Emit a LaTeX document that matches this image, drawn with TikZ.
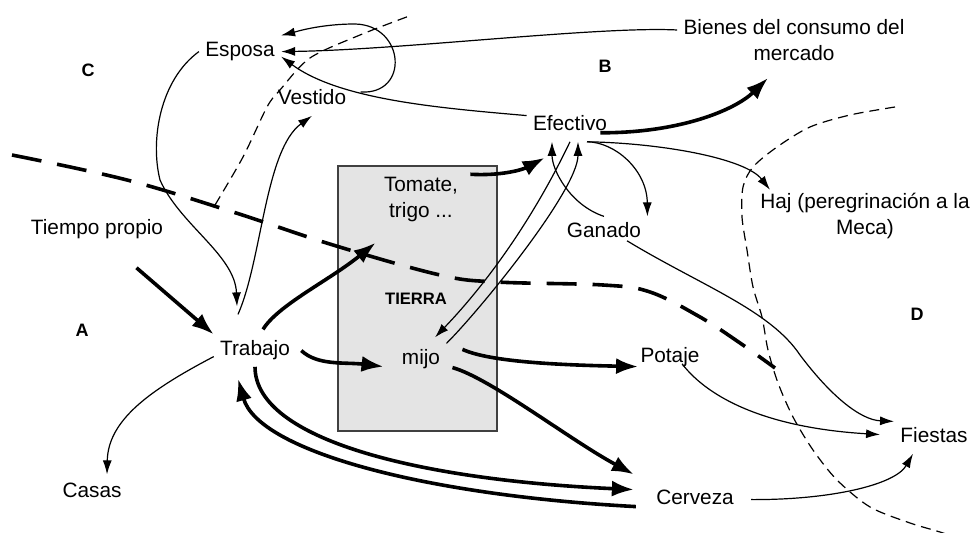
\documentclass[tikz,border=0pt]{standalone}
\usepackage{fontspec}
\setmainfont{Liberation Sans}
\usetikzlibrary{arrows.meta}
\definecolor{landGray}{HTML}{E4E4E4}

\begin{document}
\begin{tikzpicture}[
  x=0.5pt, y=-0.5pt,
  font=\fontsize{10.4}{13}\selectfont,
  item/.style={inner sep=3pt, text height=7.6pt, text depth=2.2pt, anchor=base},
  twoline/.style={inner sep=3pt, align=center},
  zone/.style={font=\fontsize{9}{11}\selectfont\bfseries, anchor=base},
  land/.style={draw=black!75, line width=0.6pt, fill=landGray},
  bigflow/.style={line width=1.8pt, -{Latex[length=11pt, width=8pt]}},
  smallflow/.style={line width=0.6pt, -{Latex[length=7pt, width=4.5pt]}},
  bigdash/.style={line width=1.8pt, dash pattern=on 15pt off 8pt},
  smalldash/.style={line width=0.6pt, dash pattern=on 5pt off 3pt}
]
\useasboundingbox (0,0) rectangle (970,533);
\draw[land] (338,166) rectangle (497,431);

\draw[bigdash] plot[smooth, tension=0.6] coordinates {(12,155) (127,180) (233,212) (333,245) (440,275) (497,282) (603,285) (650,292) (700,317) (740,343) (775,368)};
\draw[smalldash] plot[smooth] coordinates {(215,205) (243,157) (267,107) (280,90) (310,58) (360,35) (412,15)};
\draw[smalldash] plot[smooth] coordinates {(895,107) (850,115) (810,127) (777,147) (753,167) (743,187) (742,217) (747,250) (753,287) (762,317) (768,350) (778,383) (793,417) (813,450) (837,480) (870,507) (910,523) (943,533) (975,545)};

\node[item] (esposa) at (240,57) {Esposa};
\node[item] (vestido) at (312,105) {Vestido};
\node[twoline] (bienes) at (794,40) {Bienes del consumo del\\mercado};
\node[item] (efectivo) at (570,131) {Efectivo};
\node[twoline] (tomate) at (421,200) {Tomate,\\trigo ...};
\node[item] (tiempo) at (97,235) {Tiempo propio};
\node[item] (ganado) at (604,238) {Ganado};
\node[twoline] (haj) at (865,216) {Haj (peregrinación a la\\Meca)};
\node[zone, font=\fontsize{8.3}{10}\selectfont\bfseries] (tierra) at (416,305) {TIERRA};
\node[item] (trabajo) at (255,356) {Trabajo};
\node[item] (mijo) at (421,365) {mijo};
\node[item] (potaje) at (670,363) {Potaje};
\node[item] (casas) at (92,498) {Casas};
\node[item] (cerveza) at (695,505) {Cerveza};
\node[item] (fiestas) at (934,443) {Fiestas};
\node[zone] (zoneA) at (82,337) {A};
\node[zone] (zoneB) at (605,73) {B};
\node[zone] (zoneC) at (88,77) {C};
\node[zone] (zoneD) at (917,321) {D};

\draw[bigflow] ([shift={(-33,22)}]tiempo.south east) -- (trabajo.north west);
\draw[bigflow] ([shift={(8,-5)}]trabajo.north) .. controls (278,305) and (330,280) .. ([shift={(-2,14)}]tomate.south west);
\draw[bigflow] ([shift={(6,3)}]tomate.north east) .. controls (500,176) and (522,170) .. ([shift={(18,16)}]efectivo.south west);
\draw[bigflow] ([shift={(-13,-9)}]efectivo.south east) .. controls (680,133) and (735,110) .. ([shift={(-26,11)}]bienes.south);
\draw[bigflow] ([shift={(5,0)}]trabajo.east) .. controls (318,366) and (345,362) .. ([shift={(-12,7)}]mijo.west);
\draw[bigflow] ([shift={(16,6)}]mijo.north east) .. controls (490,362) and (560,365) .. ([shift={(4,9)}]potaje.west);
\draw[bigflow] ([shift={(6,8)}]mijo.east) .. controls (490,378) and (570,440) .. ([shift={(-16,-9)}]cerveza.north west);
\draw[bigflow] (trabajo.south) .. controls (255,440) and (420,480) .. ([shift={(-16,-10)}]cerveza.west);
\draw[bigflow] ([shift={(-14,7)}]cerveza.west) .. controls (420,495) and (258,450) .. ([shift={(-17,12)}]trabajo.south);

\draw[smallflow] (esposa.west) .. controls (160,80) and (150,140) .. (160,180) .. controls (180,225) and (235,255) .. ([shift={(-18,-28)}]trabajo.north);
\draw[smallflow] ([shift={(-17,-20)}]trabajo.north) .. controls (262,260) and (265,150) .. (vestido.south);
\draw[smallflow] ([shift={(0,-10)}]efectivo.west) .. controls (440,108) and (340,100) .. ([shift={(0,5)}]esposa.east) coordinate[pos=0.63] (loopfoot);
\draw[smallflow] (loopfoot) .. controls (410,95) and (405,25) .. (355,24) .. controls (320,24) and (295,32) .. (esposa.north east);
\draw[smallflow] ([shift={(0,-10)}]bienes.west) .. controls (600,26) and (400,50) .. (esposa.east);
\draw[smallflow] (ganado.north) .. controls (570,205) and (552,170) .. ([shift={(-18,0)}]efectivo.south);
\draw[smallflow] ([shift={(17,0)}]efectivo.south) .. controls (615,142) and (647,170) .. (ganado.north east);
\draw[smallflow] ([shift={(17,0)}]efectivo.south) .. controls (660,143) and (745,158) .. ([shift={(16,3)}]haj.north west);
\draw[smallflow] ([shift={(23,-8)}]ganado.south) .. controls (700,285) and (770,310) .. (800,355) .. controls (830,395) and (860,420) .. (fiestas.north west);
\draw[smallflow] ([shift={(12,-10)}]potaje.south) .. controls (710,400) and (770,428) .. ([shift={(-14,-3)}]fiestas.west);
\draw[smallflow] ([shift={(11,0)}]cerveza.east) .. controls (830,500) and (895,485) .. ([shift={(-21,0)}]fiestas.south);
\draw[smallflow] ([shift={(0,6)}]trabajo.west) .. controls (150,390) and (108,420) .. ([shift={(15,-2)}]casas.north);
\draw[smallflow] (efectivo.south) .. controls (535,215) and (490,280) .. ([shift={(14,-6)}]mijo.north);
\draw[smallflow] (mijo.north east) .. controls (480,310) and (578,190) .. ([shift={(8,0)}]efectivo.south);
\end{tikzpicture}
\end{document}
